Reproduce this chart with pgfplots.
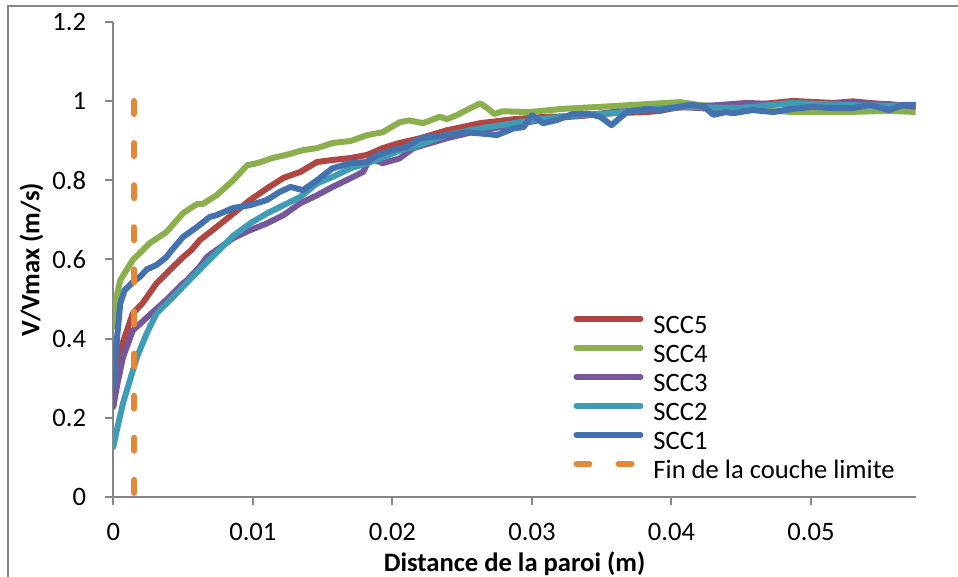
\documentclass[border=0pt]{standalone}
\usepackage{fontspec}
\setmainfont{Carlito}
\usepackage{pgfplots}
\pgfplotsset{compat=1.18}
\definecolor{cfive}{HTML}{B04642}
\definecolor{cfour}{HTML}{8CAF4E}
\definecolor{cthree}{HTML}{76589A}
\definecolor{ctwo}{HTML}{3E9DB5}
\definecolor{cone}{HTML}{4472AE}
\definecolor{corange}{HTML}{E38836}
\definecolor{axgray}{HTML}{868686}
\begin{document}
\fontsize{13.3}{16}\selectfont
\begin{tikzpicture}
\useasboundingbox (-56.65pt,-39.85pt) rectangle (422.35pt,248.65pt);
\draw[axgray, line width=1pt] (-52.4pt,-39.85pt) -- (-52.4pt,245.5pt) -- (422.35pt,245.5pt);
\begin{axis}[
  at={(0pt,0pt)}, anchor=south west,
  width=401.2pt, height=237.8pt, scale only axis,
  xmin=0, xmax=0.0575, ymin=0, ymax=1.2,
  axis x line*=bottom, axis y line*=left,
  axis line style={draw=axgray, line width=1pt},
  tick align=outside, major tick length=4pt,
  tick style={draw=axgray, line width=1pt},
  xtick={0,0.01,0.02,0.03,0.04,0.05},
  ytick={0,0.2,0.4,0.6,0.8,1,1.2},
  scaled x ticks=false, scaled y ticks=false,
  xticklabel style={/pgf/number format/fixed, /pgf/number format/precision=2, yshift=-4.5pt},
  yticklabel style={/pgf/number format/fixed, /pgf/number format/precision=1, xshift=-5pt},
  /pgf/number format/assume math mode=true,
  ticklabel style={font=\fontsize{13.3}{16}\selectfont, text=black},
  xlabel={\textbf{Distance de la paroi (m)}},
  ylabel={\textbf{V/Vmax (m/s)}},
  xlabel style={at={(axis description cs:0.5,-0.14)}, anchor=center, font=\fontsize{13.3}{16}\selectfont},
  ylabel style={at={(axis description cs:-0.102,0.5)}, anchor=center, font=\fontsize{13.3}{16}\selectfont},
  legend cell align=left,
  legend style={draw=none, fill=none, at={(0.5655,0.391)}, anchor=north west,
    font=\fontsize{13.3}{16}\selectfont, row sep=3pt,
    nodes={inner sep=0pt, text height=9pt, text depth=2.5pt},
    /tikz/every odd column/.append style={column sep=5pt}},
  legend image code/.code={\draw[#1] (0pt,4.2pt) -- (32pt,4.2pt);},
  every axis plot/.append style={line width=3pt, line join=round, line cap=round},
]
\addplot[cfive] coordinates {
(0,0.27)(0.0001,0.288)(0.0005,0.372)(0.0014,0.464)(0.0021,0.49)(0.0031,0.54)(0.0043,0.582)(0.0050,0.606)(0.0056,0.624)(0.0062,0.649)(0.0074,0.682)(0.0086,0.716)(0.0098,0.750)(0.0110,0.779)(0.0122,0.806)(0.0134,0.821)(0.0146,0.846)(0.0157,0.851)(0.0170,0.856)(0.0182,0.864)(0.0193,0.881)(0.0205,0.894)(0.0220,0.906)(0.0239,0.926)(0.0263,0.944)(0.0287,0.954)(0.0310,0.960)(0.0334,0.962)(0.0358,0.969)(0.0382,0.972)(0.0392,0.975)(0.0406,0.985)(0.0430,0.98)(0.0458,0.99)(0.0487,1.0)(0.0516,0.995)(0.0530,0.999)(0.0556,0.99)(0.0576,0.988)
};
\addlegendentry{SCC5}
\addplot[cfour] coordinates {
(0,0.43)(0.0002,0.50)(0.0005,0.548)(0.0014,0.599)(0.0026,0.641)(0.0038,0.669)(0.0050,0.717)(0.0060,0.740)(0.0064,0.740)(0.0074,0.762)(0.0086,0.800)(0.0096,0.838)(0.0103,0.843)(0.0114,0.856)(0.0124,0.864)(0.0136,0.876)(0.0146,0.881)(0.0157,0.894)(0.0170,0.899)(0.0182,0.914)(0.0193,0.921)(0.0205,0.946)(0.0212,0.951)(0.0222,0.944)(0.0234,0.960)(0.0239,0.954)(0.0246,0.964)(0.0256,0.982)(0.0263,0.994)(0.0268,0.982)(0.0273,0.967)(0.0279,0.974)(0.0298,0.972)(0.0322,0.980)(0.0358,0.987)(0.0406,0.997)(0.0420,0.99)(0.0454,0.98)(0.0487,0.972)(0.0525,0.972)(0.0556,0.975)(0.0576,0.972)
};
\addlegendentry{SCC4}
\addplot[cthree] coordinates {
(0,0.228)(0.0003,0.288)(0.0007,0.354)(0.0014,0.421)(0.0026,0.46)(0.0038,0.498)(0.0050,0.54)(0.0053,0.548)(0.0062,0.582)(0.0067,0.606)(0.0074,0.624)(0.0086,0.654)(0.0098,0.674)(0.0110,0.691)(0.0122,0.712)(0.0134,0.742)(0.0146,0.762)(0.0157,0.783)(0.0170,0.805)(0.0179,0.821)(0.0184,0.856)(0.0193,0.843)(0.0205,0.855)(0.0215,0.881)(0.0239,0.906)(0.0263,0.926)(0.0287,0.939)(0.0310,0.955)(0.0334,0.962)(0.0358,0.972)(0.0392,0.98)(0.0435,0.99)(0.0454,0.995)(0.0487,0.99)(0.0530,0.995)(0.0556,0.992)(0.0576,0.985)
};
\addlegendentry{SCC3}
\addplot[ctwo] coordinates {
(0,0.127)(0.0003,0.177)(0.0007,0.238)(0.0012,0.296)(0.0017,0.354)(0.0024,0.414)(0.0031,0.464)(0.0043,0.506)(0.0057,0.557)(0.0071,0.607)(0.0086,0.66)(0.0098,0.691)(0.0110,0.716)(0.0122,0.737)(0.0134,0.758)(0.0146,0.792)(0.0157,0.808)(0.0170,0.83)(0.0182,0.843)(0.0193,0.857)(0.0205,0.875)(0.0215,0.884)(0.0239,0.914)(0.0263,0.931)(0.0287,0.944)(0.0310,0.956)(0.0334,0.964)(0.0358,0.969)(0.0382,0.979)(0.0406,0.985)(0.0449,0.982)(0.0487,0.995)(0.0523,0.99)(0.0558,0.987)(0.0576,0.99)
};
\addlegendentry{SCC2}
\addplot[cone] coordinates {
(0,0.28)(0.0001,0.33)(0.0003,0.414)(0.0005,0.489)(0.0008,0.522)(0.0014,0.543)(0.0019,0.556)(0.0024,0.575)(0.0031,0.586)(0.0038,0.606)(0.0042,0.624)(0.0050,0.657)(0.0060,0.682)(0.0069,0.707)(0.0074,0.712)(0.0086,0.73)(0.0098,0.737)(0.0110,0.75)(0.0119,0.77)(0.0127,0.783)(0.0136,0.775)(0.0146,0.80)(0.0157,0.83)(0.0170,0.843)(0.0182,0.846)(0.0189,0.863)(0.0200,0.876)(0.0210,0.884)(0.0220,0.906)(0.0239,0.914)(0.0253,0.921)(0.0263,0.918)(0.0275,0.914)(0.0287,0.931)(0.0294,0.934)(0.0300,0.964)(0.0308,0.944)(0.0318,0.952)(0.0329,0.967)(0.0341,0.967)(0.0349,0.96)(0.0357,0.939)(0.0368,0.972)(0.0382,0.98)(0.0392,0.977)(0.0413,0.99)(0.0423,0.987)(0.0430,0.965)(0.0439,0.972)(0.0444,0.969)(0.0458,0.977)(0.0473,0.972)(0.0487,0.98)(0.0501,0.985)(0.0516,0.982)(0.0530,0.982)(0.0542,0.99)(0.0556,0.977)(0.0566,0.99)(0.0576,0.99)
};
\addlegendentry{SCC1}
\addplot[corange, dash pattern=on 6.5pt off 14.55pt] coordinates {(0.0015,1) (0.0015,0)};
\addlegendentry{Fin de la couche limite}
\end{axis}
\end{tikzpicture}
\end{document}
